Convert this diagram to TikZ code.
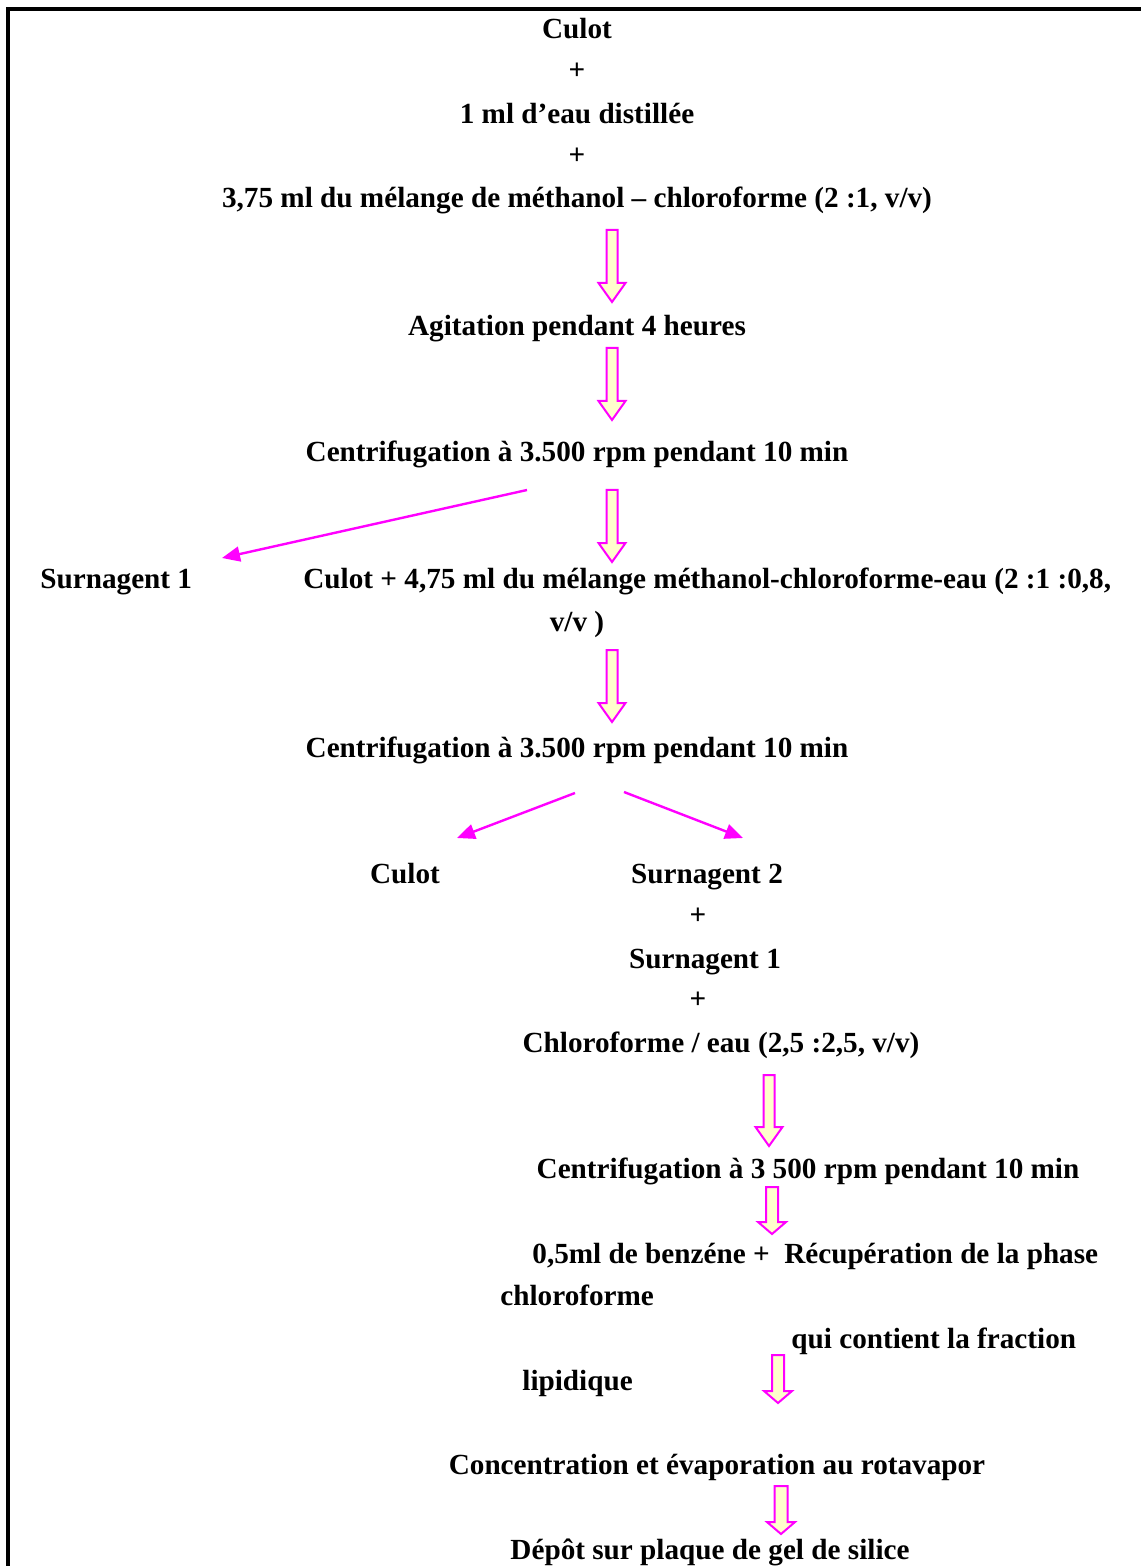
\documentclass[tikz,border=0pt]{standalone}
\usepackage{fontspec}
\setmainfont{Liberation Serif}
\usetikzlibrary{arrows.meta}
\definecolor{pinkline}{HTML}{FF00FF}
\definecolor{paleyellow}{HTML}{FFFFCC}
\tikzset{
  txt/.style={inner sep=0pt, font=\fontsize{14.6}{17}\selectfont\bfseries, anchor=base},
  txtw/.style={txt, anchor=base west},
  blockstyle/.style={draw=pinkline, fill=paleyellow, line width=1pt, line join=miter},
  thinarrow/.style={draw=pinkline, line width=1.2pt, -{Triangle[length=9pt,width=7.5pt]}},
}
\newcommand\downblock[6]{%
  \draw[blockstyle] ({#1-#4},#2) -- ({#1+#4},#2) -- ({#1+#4},{#3-#6}) -- ({#1+#5},{#3-#6}) -- (#1,#3) -- ({#1-#5},{#3-#6}) -- ({#1-#4},{#3-#6}) -- cycle;}
\begin{document}
\begin{tikzpicture}[x=0.5pt,y=-0.5pt]
\useasboundingbox (0,0) rectangle (1141,1566);
\draw[line width=2pt] (8,1566) -- (8,9) -- (1141,9);

\node[txt] (t1) at (577,39) {Culot};
\node[txt] (p1) at (577,80) {+};
\node[txt] (t2) at (577,124) {1 ml d’eau distillée};
\node[txt] (p2) at (577,165) {+};
\node[txt] (t3) at (577,208) {3,75 ml du mélange de méthanol – chloroforme (2 :1, v/v)};
\node[txt] (t4) at (577,336) {Agitation pendant 4 heures};
\node[txt] (t5) at (577,462) {Centrifugation à 3.500 rpm pendant 10 min};
\node[txtw] (s1) at (40,588) {Surnagent 1};
\node[txtw] (t6) at (303,588) {Culot + 4,75 ml du mélange méthanol-chloroforme-eau (2 :1 :0,8,};
\node[txt] (t6b) at (577,631) {v/v )};
\node[txt] (t7) at (577,757) {Centrifugation à 3.500 rpm pendant 10 min};
\node[txt] (c2) at (405,883) {Culot};
\node[txt] (s2) at (707,883) {Surnagent 2};
\node[txt] (p3) at (698,924) {+};
\node[txt] (s3) at (705,968) {Surnagent 1};
\node[txt] (p4) at (698,1008) {+};
\node[txt] (t8) at (721,1052) {Chloroforme / eau (2,5 :2,5, v/v)};
\node[txt] (t9) at (808,1178) {Centrifugation à 3 500 rpm pendant 10 min};
\node[txtw] (t10) at (532,1263) {0,5ml de benzéne +\ \ Récupération de la phase};
\node[txtw] (t11) at (500,1305) {chloroforme};
\node[txtw] (t12) at (791,1348) {qui contient la fraction};
\node[txtw] (t13) at (522,1390) {lipidique};
\node[txt] (t14) at (717,1474) {Concentration et évaporation au rotavapor};
\node[txt] (t15) at (710,1559) {Dépôt sur plaque de gel de silice};

% block arrows
\downblock{612}{230}{302}{5.5}{13.5}{19}
\downblock{612}{348}{420}{5.5}{13.5}{19}
\downblock{612}{490}{562}{5.5}{13.5}{19}
\downblock{612}{650}{722}{5.5}{13.5}{19}
\downblock{769}{1075}{1146}{5.5}{13.5}{19}
\downblock{772}{1187}{1234}{6}{14}{12}
\downblock{778}{1355}{1403}{6}{14}{12}
\downblock{781}{1486}{1534}{6.5}{14}{12}

% thin pink arrows
\coordinate (a1s) at (527,490);
\coordinate (a1e) at (222,558);
\coordinate (a2s) at (575,793);
\coordinate (a2e) at (457,838);
\coordinate (a3s) at (624,792);
\coordinate (a3e) at (743,838);
\draw[thinarrow] (a1s) -- (a1e);
\draw[thinarrow] (a2s) -- (a2e);
\draw[thinarrow] (a3s) -- (a3e);
\end{tikzpicture}
\end{document}
